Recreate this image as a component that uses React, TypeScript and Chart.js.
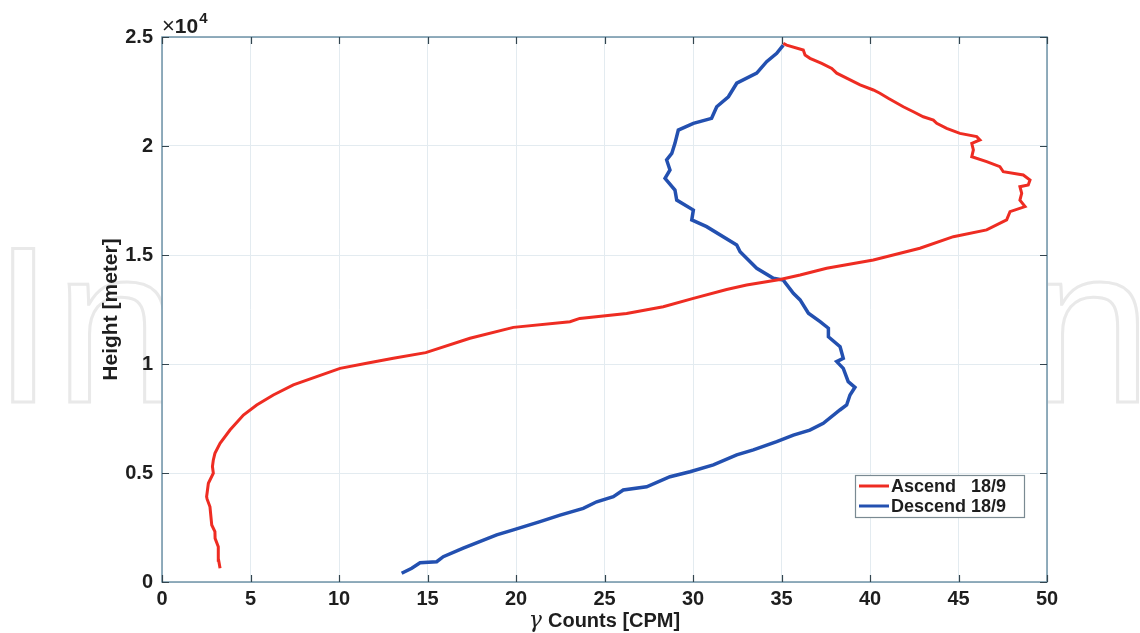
import React, { useEffect, useRef } from "react";
import { Chart, registerables } from "chart.js";

Chart.register(...registerables);

// Ascend 18/9 : gamma counts (CPM) and height (m)
const ascendCounts = [
  3.28, 3.2, 3.18, 3.0, 2.99, 2.81, 2.71, 2.55, 2.52, 2.62, 2.9, 2.85, 2.9, 2.99, 3.28, 3.84,
  4.6, 5.35, 6.29, 7.42, 8.74, 10.06, 11.56, 13.07, 14.9, 17.4, 19.85, 23.05, 23.6, 26.25,
  28.32, 30.02, 31.9, 33.03, 34.92, 36.05, 37.55, 40.19, 42.82, 44.71, 46.59, 47.72, 47.91,
  48.76, 48.47, 48.57, 48.47, 48.94, 49.04, 48.66, 47.53, 47.34, 46.59, 45.75, 45.84, 45.75,
  46.21, 46.03, 45.08, 44.33, 43.77, 43.58, 43.01, 42.45, 41.88, 41.03, 40.56, 40.19, 39.44,
  38.68, 38.12, 37.84, 37.27, 36.61, 36.33, 36.23, 35.29, 35.1,
];
const ascendHeights = [
  630, 1000, 1620, 2000, 2310, 2615, 3450, 3800, 3910, 4530, 4990, 5300, 5600, 5900, 6360, 6970,
  7660, 8120, 8580, 9040, 9420, 9800, 10030, 10260, 10520, 11180, 11680, 11940, 12090, 12320,
  12630, 13010, 13420, 13620, 13880, 14080, 14390, 14770, 15310, 15840, 16150, 16610, 16990,
  17220, 17520, 17830, 18130, 18210, 18440, 18670, 18820, 19050, 19280, 19510, 19820, 20120,
  20280, 20430, 20580, 20810, 21040, 21190, 21340, 21570, 21800, 22190, 22420, 22570, 22800,
  23110, 23340, 23560, 23790, 24020, 24170, 24400, 24630, 24710,
];

// Descend 18/9
const descendCounts = [
  13.54, 14.11, 14.58, 15.52, 15.89, 17.02, 18.91, 19.85, 21.36, 22.49, 23.8, 24.56, 25.5,
  26.06, 27.38, 28.7, 29.83, 31.15, 32.47, 33.41, 34.73, 35.67, 36.6, 37.36, 38.3, 38.68,
  38.87, 39.15, 38.77, 38.49, 38.12, 38.49, 38.31, 37.65, 37.65, 37.18, 36.52, 36.05, 35.67,
  35.1, 34.54, 33.6, 32.66, 32.47, 30.77, 29.93, 30.02, 29.08, 28.98, 28.42, 28.7, 28.51,
  28.8, 28.98, 29.17, 30.02, 31.05, 31.34, 32.0, 32.47, 33.6, 34.16, 34.73, 35.1,
];
const descendHeights = [
  400, 630, 885, 930, 1160, 1550, 2160, 2390, 2770, 3070, 3380, 3680, 3910, 4220, 4370, 4830,
  5060, 5370, 5830, 6060, 6440, 6740, 6970, 7280, 7890, 8120, 8580, 8930, 9190, 9800, 10110,
  10260, 10790, 11250, 11640, 11940, 12330, 12940, 13240, 13850, 13930, 14390, 15150, 15460,
  16300, 16610, 17060, 17520, 17980, 18520, 18900, 19360, 19660, 20120, 20730, 21040, 21270,
  21800, 22260, 22880, 23340, 23870, 24250, 24630,
];

const seriesLabels = ["Ascend   18/9", "Descend 18/9"];
const seriesColors = ["#ee2c22", "#2350b0"];
const xTicks = [0, 5, 10, 15, 20, 25, 30, 35, 40, 45, 50];
const yTicks = [0, 5000, 10000, 15000, 20000, 25000];
const xTitle = "Counts [CPM]";
const yTitle = "Height [meter]";

const AXIS = "#6f93a6";
const TICK = "#33454f";
const TEXT = "#1e1e1e";
const FONT = "'Liberation Sans', Arial, Helvetica, sans-serif";

const decorPlugin = {
  id: "decor",
  beforeDraw(chart: any) {
    const { ctx, chartArea: a, width, height } = chart;
    ctx.save();
    ctx.fillStyle = "#ffffff";
    ctx.fillRect(0, 0, width, height);
    // faint watermark
    ctx.font = `222px ${FONT}`;
    const w = ctx.measureText("IntechOpen").width;
    ctx.translate(-8, 402);
    ctx.scale(1160 / w, 1);
    ctx.strokeStyle = "#e9e9e9";
    ctx.lineWidth = 3;
    ctx.strokeText("IntechOpen", 0, 0);
    ctx.restore();
    ctx.save();
    ctx.fillStyle = "#ffffff";
    ctx.fillRect(a.left, a.top, a.right - a.left, a.bottom - a.top);
    ctx.restore();
  },
  afterDatasetsDraw(chart: any) {
    const { ctx, chartArea: a, scales } = chart;
    ctx.save();
    // box
    ctx.strokeStyle = AXIS;
    ctx.lineWidth = 1.5;
    ctx.strokeRect(a.left, a.top, a.right - a.left, a.bottom - a.top);
    // inward ticks
    ctx.strokeStyle = TICK;
    ctx.lineWidth = 1.2;
    const tl = 7;
    ctx.beginPath();
    xTicks.forEach((v) => {
      const px = Math.round(scales.x.getPixelForValue(v)) + 0.5;
      ctx.moveTo(px, a.bottom);
      ctx.lineTo(px, a.bottom - tl);
      ctx.moveTo(px, a.top);
      ctx.lineTo(px, a.top + tl);
    });
    yTicks.forEach((v) => {
      const py = Math.round(scales.y.getPixelForValue(v)) + 0.5;
      ctx.moveTo(a.left, py);
      ctx.lineTo(a.left + tl, py);
      ctx.moveTo(a.right, py);
      ctx.lineTo(a.right - tl, py);
    });
    ctx.stroke();

    // exponent label
    ctx.fillStyle = TEXT;
    ctx.textBaseline = "alphabetic";
    ctx.textAlign = "left";
    ctx.font = `22px ${FONT}`;
    ctx.fillText("\u00d7", 162, 33);
    const wx = ctx.measureText("\u00d7").width;
    ctx.font = `bold 21px ${FONT}`;
    ctx.fillText("10", 162 + wx, 33);
    const w10 = ctx.measureText("10").width;
    ctx.font = `bold 15px ${FONT}`;
    ctx.fillText("4", 162 + wx + w10 + 1, 23);

    // x title
    ctx.font = `bold 20px ${FONT}`;
    const wt = ctx.measureText(xTitle).width;
    ctx.font = `italic 22px 'DejaVu Serif', 'Liberation Serif', serif`;
    const wg = ctx.measureText("\u03b3").width;
    const total = wg + 6 + wt;
    const cx = (a.left + a.right) / 2;
    const x0 = cx - total / 2;
    ctx.fillText("\u03b3", x0, 627);
    ctx.font = `bold 20px ${FONT}`;
    ctx.fillText(xTitle, x0 + wg + 6, 627);

    // y title
    ctx.save();
    ctx.translate(117, (a.top + a.bottom) / 2);
    ctx.rotate(-Math.PI / 2);
    ctx.textAlign = "center";
    ctx.font = `bold 21px ${FONT}`;
    ctx.fillText(yTitle, 0, 0);
    ctx.restore();

    // legend
    const lx = 855, ly = 475, lw = 169, lh = 42;
    ctx.fillStyle = "#ffffff";
    ctx.fillRect(lx, ly, lw, lh);
    ctx.strokeStyle = "#7a8a92";
    ctx.lineWidth = 1.2;
    ctx.strokeRect(lx + 0.5, ly + 0.5, lw, lh);
    const rows = [486, 506];
    rows.forEach((ry, i) => {
      ctx.strokeStyle = seriesColors[i];
      ctx.lineWidth = 3;
      ctx.beginPath();
      ctx.moveTo(859, ry);
      ctx.lineTo(889, ry);
      ctx.stroke();
      ctx.fillStyle = TEXT;
      ctx.font = `bold 18px ${FONT}`;
      ctx.textBaseline = "middle";
      ctx.textAlign = "left";
      ctx.fillText(seriesLabels[i], 891, ry + 1);
    });
    ctx.restore();
  },
};

export default function App() {
  const ref = useRef<HTMLCanvasElement | null>(null);
  useEffect(() => {
    if (!ref.current) return;
    const mk = (xs: number[], ys: number[]) => xs.map((x, i) => ({ x, y: ys[i] }));
    const chart = new Chart(ref.current, {
      type: "scatter",
      data: {
        datasets: [
          {
            label: seriesLabels[0],
            data: mk(ascendCounts, ascendHeights),
            showLine: true,
            borderColor: seriesColors[0],
            backgroundColor: seriesColors[0],
            borderWidth: 3,
            pointRadius: 0,
            tension: 0,
          },
          {
            label: seriesLabels[1],
            data: mk(descendCounts, descendHeights),
            showLine: true,
            borderColor: seriesColors[1],
            backgroundColor: seriesColors[1],
            borderWidth: 3.5,
            pointRadius: 0,
            tension: 0,
          },
        ],
      },
      plugins: [decorPlugin],
      options: {
        responsive: false,
        animation: false,
        devicePixelRatio: 1,
        layout: { padding: { left: 0, right: 93, top: 37, bottom: 0 } },
        plugins: { legend: { display: false }, tooltip: { enabled: false } },
        scales: {
          x: {
            type: "linear",
            min: 0,
            max: 50,
            afterBuildTicks: (s: any) => {
              s.ticks = xTicks.map((v) => ({ value: v }));
            },
            afterFit: (s: any) => {
              s.height = 51;
            },
            grid: { color: "#e3ebf0", lineWidth: 1, drawTicks: false },
            border: { display: false },
            ticks: {
              padding: 5,
              color: TEXT,
              font: { family: FONT, size: 20, weight: "bold" },
              maxRotation: 0,
              autoSkip: false,
            },
          },
          y: {
            type: "linear",
            min: 0,
            max: 25000,
            afterBuildTicks: (s: any) => {
              s.ticks = yTicks.map((v) => ({ value: v }));
            },
            afterFit: (s: any) => {
              s.width = 162;
            },
            grid: { color: "#e3ebf0", lineWidth: 1, drawTicks: false },
            border: { display: false },
            ticks: {
              padding: 9,
              color: TEXT,
              font: { family: FONT, size: 20, weight: "bold" },
              autoSkip: false,
              callback: (v: any) => String(Number(v) / 10000),
            },
          },
        },
      },
    });
    return () => chart.destroy();
  }, []);
  return (
    <div style={{ position: "absolute", left: 0, top: 0, width: 1140, height: 633, background: "#fff" }}>
      <canvas ref={ref} width={1140} height={633} style={{ display: "block", width: 1140, height: 633 }} />
    </div>
  );
}
